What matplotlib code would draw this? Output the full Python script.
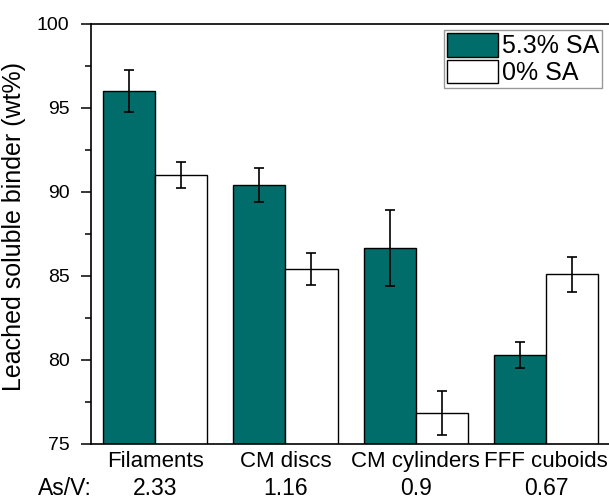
import matplotlib
matplotlib.use("Agg")
import matplotlib.pyplot as plt
import numpy as np
from matplotlib.ticker import MultipleLocator

plt.rcParams["font.family"] = ["Liberation Sans", "DejaVu Sans"]

categories = ["Filaments", "CM discs", "CM cylinders", "FFF cuboids"]
as_v = ["2.33", "1.16", "0.9", "0.67"]
sa_53 = [96.0, 90.4, 86.65, 80.3]
sa_53_err = [1.26, 1.0, 2.25, 0.8]
sa_0 = [91.0, 85.4, 76.85, 85.1]
sa_0_err = [0.79, 0.95, 1.3, 1.04]

teal = "#006D6A"

fig = plt.figure(figsize=(6.09, 5.03), dpi=100)
ax = fig.add_axes([0.1494, 0.1173, 0.8506, 0.835])

x = np.arange(len(categories))
w = 0.4
err_kw = dict(ecolor="black", elinewidth=1.2, capsize=3.8, capthick=1.2)
ax.bar(x - w / 2, sa_53, w, color=teal, edgecolor="black",
       linewidth=1.0, yerr=sa_53_err, error_kw=err_kw, label="5.3% SA")
ax.bar(x + w / 2, sa_0, w, color="white", edgecolor="black",
       linewidth=1.0, yerr=sa_0_err, error_kw=err_kw, label="0% SA")

ax.set_ylim(75, 100)
ax.set_xlim(-0.492, 3.483)
ax.yaxis.set_major_locator(MultipleLocator(5))
ax.yaxis.set_minor_locator(MultipleLocator(2.5))
ax.tick_params(axis="y", which="major", direction="out", length=7.5, width=1.1,
               labelsize=14, pad=8)
ax.tick_params(axis="y", which="minor", direction="out", length=4.5, width=1.1)
ax.set_xticks(x)
ax.set_xticklabels(categories, fontsize=16)
ax.tick_params(axis="x", length=0, pad=5)

ax.spines["right"].set_visible(False)
for s in ["left", "bottom", "top"]:
    ax.spines[s].set_linewidth(1.2)

ax.set_ylabel("Leached soluble binder (wt%)", fontsize=18)
ax.yaxis.set_label_coords(-0.125, 0.517)

# As/V row
trans = matplotlib.transforms.blended_transform_factory(ax.transData, ax.transAxes)
for xi, v in zip(x, as_v):
    ax.text(xi, -0.107, v, transform=trans, ha="center", va="center", fontsize=16.5)
ax.text(-0.05, -0.107, "As/V:", transform=ax.transAxes, ha="center", va="center",
        fontsize=16.5)

leg = ax.legend(loc="upper right", bbox_to_anchor=(0.9865, 0.9857), borderaxespad=0,
                fontsize=18, handlelength=2.05, handleheight=1.08, labelspacing=0.05,
                handletextpad=0.15, borderpad=0.12, fancybox=False, framealpha=1)
leg.get_frame().set_edgecolor("#999999")
leg.get_frame().set_linewidth(1.0)

fig.savefig("out.png", dpi=100)
